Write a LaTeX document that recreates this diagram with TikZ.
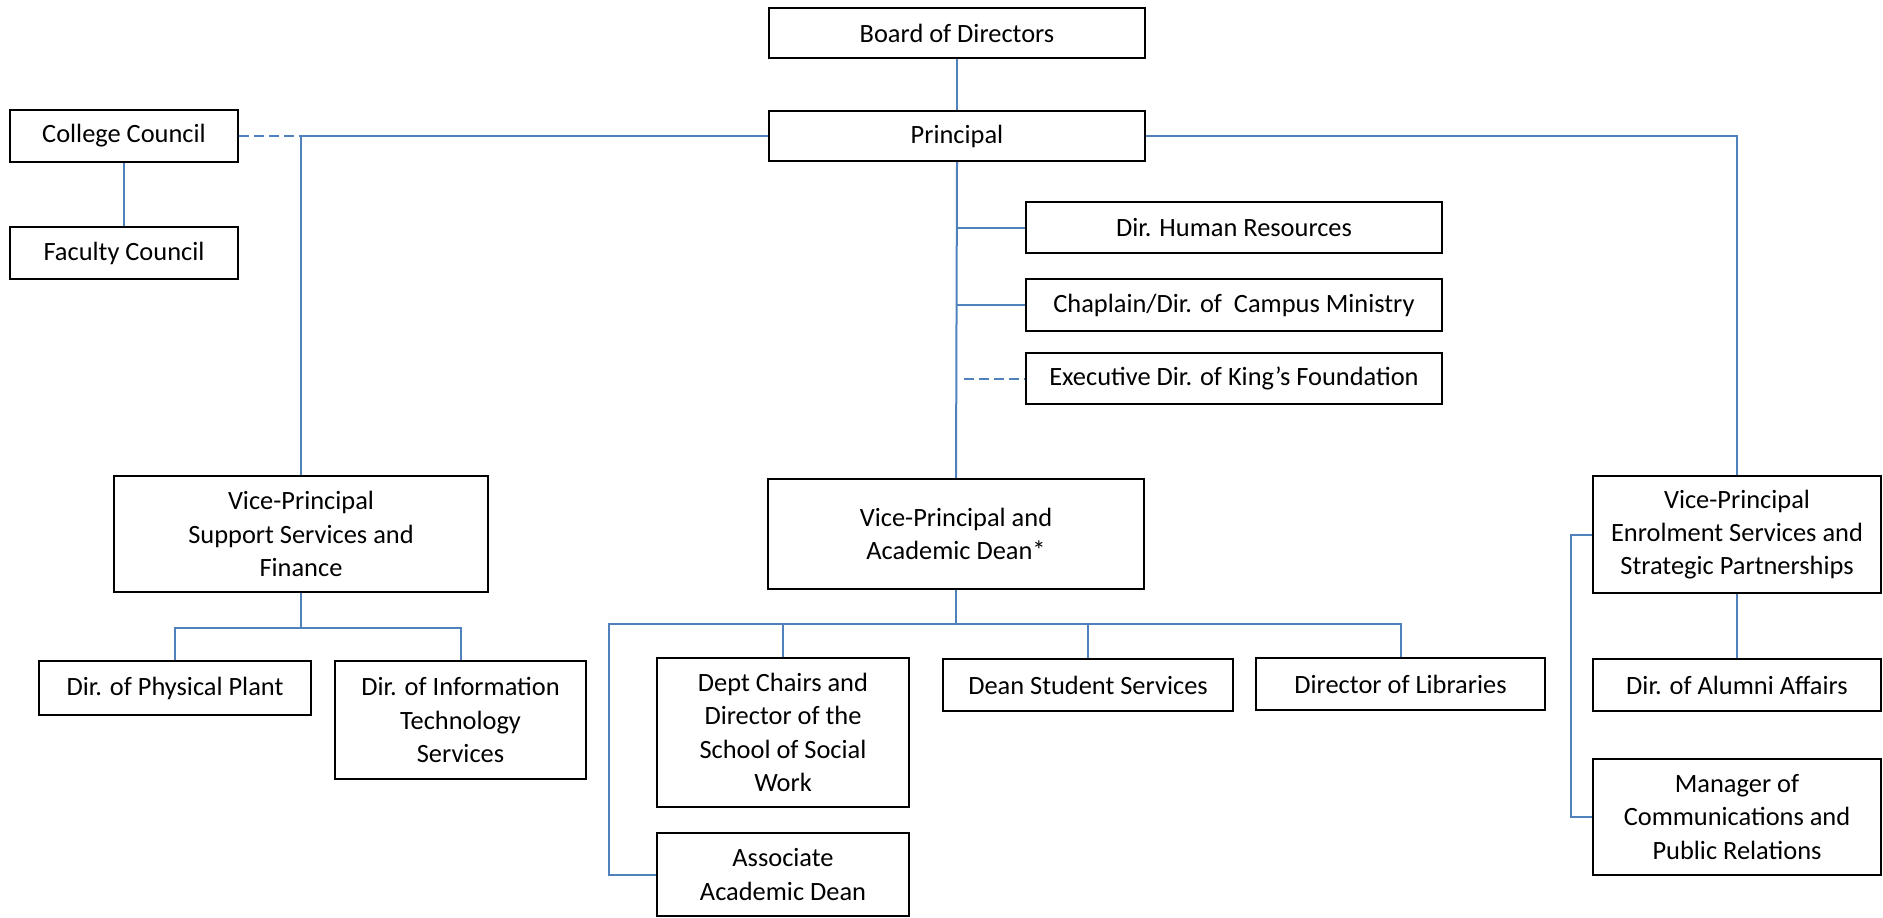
\documentclass[tikz,border=0pt]{standalone}
\usepackage{fontspec}
\setmainfont{Carlito}
\definecolor{bleu}{HTML}{4F81BD}
\tikzset{
  boite/.style={draw=black, line width=1.1pt, align=center, inner sep=1pt,
    font=\fontsize{13.2}{16.6}\selectfont},
  lien/.style={draw=bleu, line width=1pt},
  pointille/.style={lien, dash pattern=on 5pt off 2.5pt}
}
\begin{document}
\begin{tikzpicture}[x=0.5pt,y=-0.5pt]
    \useasboundingbox (0,0) rectangle (1883,917);

    % Haut
    \node[boite, minimum width=188pt, minimum height=25pt] (board) at (957,33) {Board of Directors};
    \node[boite, minimum width=188pt, minimum height=25pt] (principal) at (957,136) {Principal};
    \node[boite, minimum width=114pt, minimum height=26pt] (college) at (124,136) {College Council};
    \node[boite, minimum width=114pt, minimum height=26pt] (faculty) at (124,253) {Faculty Council};

    % Directeurs rattachés
    \node[boite, minimum width=208pt, minimum height=25.5pt] (hr) at (1234,227.5) {Dir. Human Resources};
    \node[boite, minimum width=208pt, minimum height=26pt] (chaplain) at (1234,305) {Chaplain/Dir. of\ \ Campus Ministry};
    \node[boite, minimum width=208pt, minimum height=25.5pt] (exec) at (1234,378.5) {Executive Dir. of King’s Foundation};

    % Vice-principaux
    \node[boite, minimum width=187pt, minimum height=58pt] (vpss) at (301,534) {Vice-Principal\\Support Services and\\Finance};
    \node[boite, minimum width=188pt, minimum height=55pt] (vpad) at (956,534) {Vice-Principal and\\Academic Dean*};
    \node[boite, minimum width=144pt, minimum height=58.5pt] (vpes) at (1737,534.5) {Vice-Principal\\Enrolment Services and\\Strategic Partnerships};

    % Colonne gauche
    \node[boite, minimum width=136pt, minimum height=27pt] (plant) at (175,688) {Dir. of Physical Plant};
    \node[boite, minimum width=125.5pt, minimum height=59pt] (infotech) at (460.5,720) {Dir. of Information\\Technology\\Services};

    % Colonne centrale
    \node[boite, minimum width=126pt, minimum height=74.5pt] (chairs) at (783,732.5) {Dept Chairs and\\Director of the\\School of Social\\Work};
    \node[boite, minimum width=126pt, minimum height=41.5pt] (assoc) at (783,874.5) {Associate\\Academic Dean};
    \node[boite, minimum width=145pt, minimum height=26pt] (dss) at (1088,685) {Dean Student Services};
    \node[boite, minimum width=144.5pt, minimum height=26pt] (libraries) at (1400.5,684) {Director of Libraries};

    % Colonne droite
    \node[boite, minimum width=144pt, minimum height=26pt] (alumni) at (1737,685) {Dir. of Alumni Affairs};
    \node[boite, minimum width=144pt, minimum height=58pt] (manager) at (1737,817) {Manager of\\Communications and\\Public Relations};

    % Liens du haut
    \draw[lien] (board) -- (principal);
    \draw[lien] (college) -- (faculty);
    \coordinate (jg) at (vpss.north |- principal.west);
    \draw[pointille] (college.east) -- (jg);
    \draw[lien] (principal.west) -- (jg) -- (vpss.north);
    \draw[lien] (principal.east) -| (vpes.north);
    \draw[lien] (principal.south) -- (vpad.north);
    \draw[lien] (principal.south |- hr.west) -- (hr.west);
    \draw[lien] (principal.south |- chaplain.west) -- (chaplain.west);
    \draw[pointille] ([xshift=3.5pt]principal.south |- exec.west) -- (exec.west);

    % Liens support
    \coordinate (ss) at (301,628);
    \draw[lien] (vpss.south) -- (ss);
    \draw[lien] (plant.north) |- (ss) -| (infotech.north);

    % Liens académique
    \coordinate (ad) at (956,624);
    \coordinate (ag) at (609,624);
    \draw[lien] (vpad.south) -- (ad);
    \draw[lien] (chairs.north) |- (ad) -| (libraries.north);
    \draw[lien] (dss.north) -- (dss.north |- ad);
    \draw[lien] (ad) -- (ag) |- (assoc.west);

    % Liens inscriptions
    \draw[lien] (vpes) -- (alumni);
    \coordinate (eg) at ([xshift=-10.5pt]vpes.west);
    \draw[lien] (vpes.west) -- (eg) |- (manager.west);
\end{tikzpicture}
\end{document}
